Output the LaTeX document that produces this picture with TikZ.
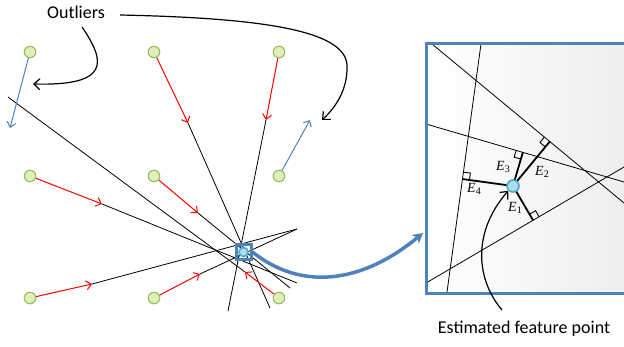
\documentclass[tikz,border=0pt]{standalone}
\usepackage{fontspec}
\setmainfont{Liberation Serif}
\newfontfamily\labfont{Carlito}
\usetikzlibrary{arrows.meta,calc}
\definecolor{obl}{HTML}{4F81BD}
\definecolor{gfill}{HTML}{DDF0BC}
\definecolor{gline}{HTML}{9BBB59}
\definecolor{cfill}{HTML}{A8DCEE}
\definecolor{cline}{HTML}{4BACC6}
\newcommand\El[1]{{\fontsize{14}{14}\selectfont\itshape E\/}\raisebox{-0.45ex}{\fontsize{10}{10}\selectfont #1}}
\begin{document}
\begin{tikzpicture}[x=1pt,y=-1pt,
  ptnode/.style={circle,draw=gline,fill=gfill,line width=1.1pt,minimum size=11.5pt,inner sep=0pt},
  barb/.style={-{Straight Barb[length=5pt,width=9pt]}},
  redarr/.style={red,line width=1pt,barb},
  bluearr/.style={obl,line width=1pt,barb},
  fitline/.style={black,line width=0.8pt},
  callout/.style={black,line width=1.2pt,-{Straight Barb[length=6pt,width=11pt]}},
  perp/.style={black,line width=1.8pt},
  rmark/.style={black,line width=0.9pt},
  lab/.style={font=\labfont\fontsize{18}{20}\selectfont,inner sep=0pt},
  estpt/.style={circle,draw=cline,fill=cfill,line width=1.6pt,inner sep=0pt}]
\useasboundingbox (0,0) rectangle (624,347);
\clip (0,0) rectangle (624,347);

% ---------- points ----------
\node[ptnode] (p11) at (30,52) {};
\node[ptnode] (p12) at (154,52) {};
\node[ptnode] (p13) at (279,52) {};
\node[ptnode] (p21) at (30,176) {};
\node[ptnode] (p22) at (154,176) {};
\node[ptnode] (p23) at (279,176) {};
\node[ptnode] (p31) at (30,298) {};
\node[ptnode] (p32) at (154,298) {};
\node[ptnode] (p33) at (279,298) {};

% arrow tips and line ends
\coordinate (a1) at (188,123); \coordinate (e1) at (270,308);
\coordinate (a2) at (266,120); \coordinate (e2) at (228,311);
\coordinate (a3) at (102,204); \coordinate (e3) at (297,283);
\coordinate (a4) at (198,213); \coordinate (e4) at (290,288);
\coordinate (a5) at (92,284);  \coordinate (e5) at (297,229);
\coordinate (a6) at (200,274); \coordinate (e6) at (297,229);
\coordinate (a7) at (245,272); \coordinate (e7) at (8,97);
\coordinate (o1) at (10,128);
\coordinate (o2) at (310,120);

% fitted lines
\foreach \i in {1,...,7}{\draw[fitline] (a\i) -- (e\i);}

% residual arrows
\draw[redarr] (p12) -- (a1);
\draw[redarr] (p13) -- (a2);
\draw[redarr] (p21) -- (a3);
\draw[redarr] (p22) -- (a4);
\draw[redarr] (p31) -- (a5);
\draw[redarr] (p32) -- (a6);
\draw[redarr] (p33) -- (a7);
\draw[bluearr] (p11) -- (o1);
\draw[bluearr] (p23) -- (o2);

% estimated point in main view
\node[estpt,minimum size=9pt] (c0) at (243.5,252) {};
\node[draw=obl,line width=3pt,minimum size=15pt,inner sep=0pt] (sq) at (243.5,252) {};

% ---------- Outliers ----------
\node[lab] (out) at (76,12) {Outliers};
\coordinate (s1) at (82,27);
\coordinate (t1) at (33,84);
\coordinate (s2) at (120,15);
\coordinate (t2) at (322,120);
\draw[callout] (s1) .. controls (106,62) and (110,86) .. (t1);
\draw[callout] (s2) .. controls (260,18) and (345,30) .. (347,65) .. controls (348,90) and (335,108) .. (t2);

% ---------- zoom panel ----------
\coordinate (A1) at (432,44);  \coordinate (A2) at (624,203);
\coordinate (B1) at (426,124); \coordinate (B2) at (624,182);
\coordinate (C1) at (426,283); \coordinate (C2) at (624,167);
\coordinate (D1) at (481,44);  \coordinate (D2) at (447,292);
\coordinate (P) at (513,186);

\begin{scope}
  \clip (426,44) rectangle (640,294);
  \shade[left color=white,right color=black!7] (426,44) rectangle (640,294);
  \draw[fitline] (A1) -- (A2);
  \draw[fitline] (B1) -- (B2);
  \draw[fitline] (C1) -- (C2);
  \draw[fitline] (D1) -- (D2);
\end{scope}
\draw[obl,line width=3pt] (426,44) rectangle (640,294);

% feet of perpendiculars
\coordinate (F1) at ($(C1)!(P)!(C2)$);
\coordinate (F2) at ($(A1)!(P)!(A2)$);
\coordinate (F3) at ($(B1)!(P)!(B2)$);
\coordinate (F4) at ($(D1)!(P)!(D2)$);

\foreach \f/\q in {F1/C2,F2/A1,F3/B1,F4/D1}{
  \coordinate (u) at ($(\f)!7pt!(\q)$);
  \coordinate (v) at ($(\f)!7pt!(P)$);
  \draw[rmark] (u) -- ($(u)+(v)-(\f)$) -- (v);
}
\foreach \f in {F1,F2,F3,F4}{\draw[perp] (P) -- (\f);}

\node[estpt,minimum size=12pt] (c1) at (P) {};

\node[inner sep=0pt] (l1) at (515,208) {\El{1}};
\node[inner sep=0pt] (l2) at (542,172) {\El{2}};
\node[inner sep=0pt] (l3) at (503,167) {\El{3}};
\node[inner sep=0pt] (l4) at (474,189) {\El{4}};

% big blue connector
\draw[obl,line width=3.5pt,-{Stealth[length=10pt,width=11pt,inset=3pt]}] (sq.east) .. controls (300,290) and (360,285) .. (423,233);

% estimated feature point label
\node[lab] (est) at (524,329) {Estimated feature point};
\coordinate (s3) at (502,310);
\draw[callout] (s3) .. controls (478,282) and (470,235) .. (c1.south west);
\end{tikzpicture}
\end{document}
